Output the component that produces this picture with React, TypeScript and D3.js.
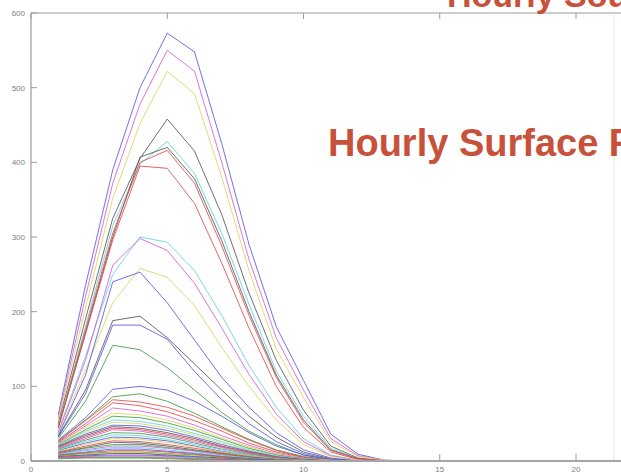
import React, { useRef, useEffect } from 'react';
import * as d3 from 'd3';

// hour of day on the x axis
const hours = [1, 2, 3, 4, 5, 6, 7, 8, 9, 10, 11, 12, 13, 14, 15];

const xTicks = [0, 5, 10, 15, 20];
const yTicks = [0, 100, 200, 300, 400, 500, 600];

// big afternoon peaks
const peakSeries = [
  [62, 235, 390, 500, 573, 548, 425, 290, 180, 108, 36, 9, 1, 0, 0],
  [58, 220, 372, 478, 550, 522, 400, 270, 165, 95, 30, 7, 1, 0, 0],
  [55, 205, 352, 452, 522, 492, 380, 255, 150, 85, 26, 6, 1, 0, 0],
  [50, 190, 325, 405, 458, 415, 330, 225, 135, 68, 20, 4, 0, 0, 0],
  [48, 180, 315, 398, 428, 385, 305, 210, 120, 60, 17, 3, 0, 0, 0],
  [44, 172, 300, 407, 420, 378, 295, 200, 115, 55, 15, 3, 0, 0, 0],
  [46, 176, 305, 400, 416, 372, 288, 195, 112, 52, 14, 3, 0, 0, 0],
  [45, 170, 296, 395, 392, 345, 265, 178, 100, 45, 12, 2, 0, 0, 0],
  [40, 140, 250, 300, 293, 255, 195, 128, 72, 30, 8, 1, 0, 0, 0],
  [38, 135, 262, 298, 282, 238, 178, 116, 63, 26, 7, 1, 0, 0, 0],
  [36, 122, 212, 258, 246, 208, 152, 100, 55, 22, 6, 1, 0, 0, 0],
  [34, 115, 240, 253, 212, 162, 112, 72, 38, 15, 4, 0, 0, 0, 0],
];
const peakColors = ['b', 'm', 'y', 'k', 'c', 'k', 'r', 'r', 'c', 'm', 'y', 'b'];

// the smaller curves near the bottom
const lowSeries = [
  [33, 95, 188, 194, 165, 130, 95, 60, 32, 12, 3, 0, 0, 0, 0],
  [32, 90, 182, 182, 163, 120, 82, 50, 26, 10, 2, 0, 0, 0, 0],
  [30, 80, 155, 149, 125, 95, 65, 40, 22, 8, 2, 0, 0, 0, 0],
  [28, 58, 96, 100, 95, 80, 60, 38, 20, 8, 2, 0, 0, 0, 0],
  [27, 55, 86, 90, 80, 64, 46, 29, 15, 6, 1, 0, 0, 0, 0],
  [26, 54, 82, 79, 72, 60, 44, 28, 14, 5, 1, 0, 0, 0, 0],
  [25, 50, 78, 74, 66, 54, 40, 24, 12, 5, 1, 0, 0, 0, 0],
  [24, 47, 71, 67, 60, 48, 34, 21, 10, 4, 1, 0, 0, 0, 0],
  [23, 45, 64, 62, 55, 44, 31, 19, 9, 3, 1, 0, 0, 0, 0],
  [22, 42, 60, 58, 51, 41, 29, 17, 8, 3, 0, 0, 0, 0, 0],
  [21, 40, 55, 53, 47, 37, 26, 15, 7, 3, 0, 0, 0, 0, 0],
  [20, 38, 52, 50, 44, 35, 24, 14, 6, 2, 0, 0, 0, 0, 0],
  [20, 36, 48, 47, 41, 32, 22, 13, 6, 2, 0, 0, 0, 0, 0],
  [19, 34, 46, 44, 38, 30, 20, 12, 5, 2, 0, 0, 0, 0, 0],
  [18, 32, 44, 42, 36, 28, 19, 11, 5, 1, 0, 0, 0, 0, 0],
  [17, 30, 42, 40, 34, 26, 18, 10, 4, 1, 0, 0, 0, 0, 0],
  [16, 28, 38, 37, 32, 24, 16, 9, 4, 1, 0, 0, 0, 0, 0],
  [15, 26, 35, 34, 29, 22, 15, 8, 3, 1, 0, 0, 0, 0, 0],
  [14, 24, 32, 31, 27, 20, 13, 7, 3, 1, 0, 0, 0, 0, 0],
  [13, 22, 30, 29, 25, 19, 12, 7, 3, 1, 0, 0, 0, 0, 0],
  [12, 20, 27, 26, 22, 17, 11, 6, 2, 1, 0, 0, 0, 0, 0],
  [11, 18, 25, 24, 20, 15, 10, 5, 2, 0, 0, 0, 0, 0, 0],
  [10, 17, 22, 22, 18, 14, 9, 5, 2, 0, 0, 0, 0, 0, 0],
  [10, 15, 20, 20, 17, 13, 8, 4, 2, 0, 0, 0, 0, 0, 0],
  [9, 14, 18, 18, 15, 11, 7, 4, 1, 0, 0, 0, 0, 0, 0],
  [8, 12, 16, 16, 13, 10, 6, 3, 1, 0, 0, 0, 0, 0, 0],
  [8, 11, 14, 14, 12, 9, 6, 3, 1, 0, 0, 0, 0, 0, 0],
  [7, 10, 12, 12, 10, 8, 5, 3, 1, 0, 0, 0, 0, 0, 0],
  [6, 9, 11, 11, 9, 7, 4, 2, 1, 0, 0, 0, 0, 0, 0],
  [6, 8, 10, 10, 8, 6, 4, 2, 1, 0, 0, 0, 0, 0, 0],
  [5, 7, 8, 8, 7, 5, 3, 2, 1, 0, 0, 0, 0, 0, 0],
  [5, 6, 7, 7, 6, 4, 3, 1, 0, 0, 0, 0, 0, 0, 0],
  [4, 5, 6, 6, 5, 4, 2, 1, 0, 0, 0, 0, 0, 0, 0],
  [4, 5, 5, 5, 4, 3, 2, 1, 0, 0, 0, 0, 0, 0, 0],
  [3, 4, 4, 4, 3, 2, 1, 1, 0, 0, 0, 0, 0, 0, 0],
];
const lowColors = ['k', 'b', 'g', 'b', 'g', 'r', 'r', 'm', 'y', 'g', 'c', 'y', 'b', 'k', 'r', 'm', 'g', 'c',
  'b', 'y', 'r', 'k', 'g', 'm', 'c', 'b', 'r', 'g', 'y', 'k', 'b', 'm', 'c', 'r', 'g'];

// matlab-ish line colours, a bit washed out like the screenshot
const palette: Record<string, string> = {
  b: '#5a56e6', g: '#3f9c3f', r: '#e24a4a', c: '#62d4dc', m: '#d85ad8', y: '#ddd35c', k: '#555555',
};

const App = () => {
  const svgRef = useRef<SVGSVGElement>(null);
  const width = 621;
  const height = 476;

  useEffect(() => {
    const svg = d3.select(svgRef.current);
    svg.selectAll('*').remove();

    const x = d3.scaleLinear().domain([0, 25]).range([31, 31 + 25 * 27.25]);
    const y = d3.scaleLinear().domain([0, 600]).range([461, 13]);

    const line = d3.line<number>()
      .x((_, i) => x(hours[i]))
      .y(d => y(d));

    const all = [...lowSeries.map((s, i) => ({ s, c: lowColors[i] })),
      ...peakSeries.map((s, i) => ({ s, c: peakColors[i] }))];

    svg.append('g')
      .selectAll('path')
      .data(all)
      .join('path')
      .attr('d', d => line(d.s))
      .attr('fill', 'none')
      .attr('stroke', d => palette[d.c])
      .attr('stroke-opacity', 0.85)
      .attr('stroke-width', 1);

    const axisColor = '#9c9c9c';
    const fr = svg.append('g');
    fr.append('line').attr('x1', x(0)).attr('x2', width).attr('y1', y(600)).attr('y2', y(600))
      .attr('stroke', axisColor).attr('stroke-width', 1.2);
    fr.append('line').attr('x1', x(0)).attr('x2', width).attr('y1', y(0)).attr('y2', y(0))
      .attr('stroke', '#a6a6a6').attr('stroke-width', 2);
    fr.append('line').attr('x1', x(0)).attr('x2', x(0)).attr('y1', y(600)).attr('y2', y(0))
      .attr('stroke', axisColor).attr('stroke-width', 1.2);

    // inward ticks, like matlab
    fr.selectAll('.xt-b').data(xTicks).join('line')
      .attr('x1', d => x(d)).attr('x2', d => x(d)).attr('y1', y(0)).attr('y2', y(0) - 7)
      .attr('stroke', axisColor);
    fr.selectAll('.xt-t').data(xTicks).join('line')
      .attr('x1', d => x(d)).attr('x2', d => x(d)).attr('y1', y(600)).attr('y2', y(600) + 6)
      .attr('stroke', axisColor);
    fr.selectAll('.yt').data(yTicks).join('line')
      .attr('x1', x(0)).attr('x2', x(0) + 6).attr('y1', d => y(d)).attr('y2', d => y(d))
      .attr('stroke', axisColor);

    fr.selectAll('.xl').data(xTicks).join('text')
      .attr('x', d => x(d)).attr('y', y(0) + 11)
      .attr('text-anchor', 'middle')
      .attr('font-family', 'Liberation Sans, Arial, sans-serif')
      .attr('font-size', 8)
      .attr('fill', '#808080')
      .text(d => d);
    fr.selectAll('.yl').data(yTicks).join('text')
      .attr('x', x(0) - 6).attr('y', d => y(d) + 3)
      .attr('text-anchor', 'end')
      .attr('font-family', 'Liberation Sans, Arial, sans-serif')
      .attr('font-size', 8)
      .attr('fill', '#808080')
      .text(d => d);

    // faint box edge on the right
    svg.append('line').attr('x1', 614).attr('x2', 614).attr('y1', 14).attr('y2', 460)
      .attr('stroke', '#e4e4e4');

    // both titles are cut off by the screenshot's edges in the original
    svg.append('text')
      .attr('x', 447).attr('y', 7)
      .attr('font-family', 'Liberation Sans, Arial, sans-serif')
      .attr('font-weight', 'bold')
      .attr('font-size', 34)
      .attr('fill', '#c8513b')
      .text('Hourly Source');

    svg.append('text')
      .attr('x', 328).attr('y', 156)
      .attr('font-family', 'Liberation Sans, Arial, sans-serif')
      .attr('font-weight', 'bold')
      .attr('font-size', 38)
      .attr('fill', '#c8513b')
      .text('Hourly Surface Flux');
  }, []);

  return (
    <div>
      <svg ref={svgRef} width={width} height={height}
        style={{ position: 'absolute', left: 0, top: 0, background: '#fff' }} />
    </div>
  );
};

export default App;
